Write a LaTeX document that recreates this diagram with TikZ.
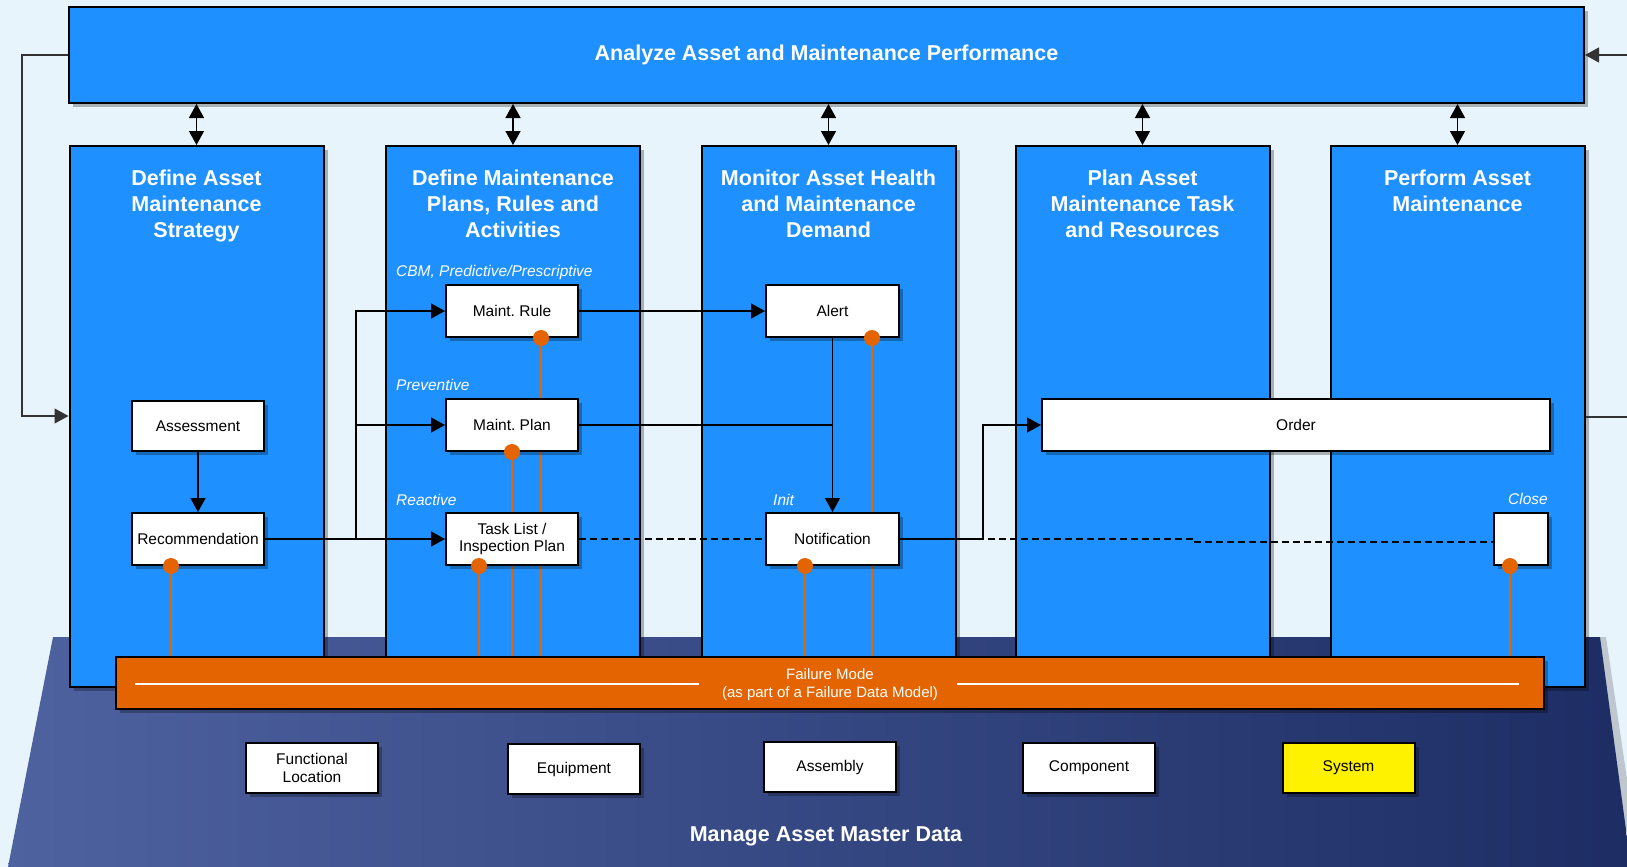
\documentclass[tikz,border=0pt]{standalone}
\usepackage{fontspec}
\setmainfont{Liberation Sans}
\usetikzlibrary{arrows.meta,shadows,calc}
\pgfdeclarelayer{back}
\pgfdeclarelayer{links}
\pgfsetlayers{back,links,main}
\definecolor{bgc}{RGB}{232,244,252}
\definecolor{colblue}{RGB}{30,144,255}
\definecolor{fmorange}{RGB}{227,100,0}
\definecolor{trapL}{RGB}{78,98,160}
\definecolor{trapR}{RGB}{29,45,100}
\newcommand\dgBoxFont{\fontsize{15.5}{17.5}\selectfont}
\newcommand\dgTitleFont{\bfseries\fontsize{21.5}{26}\selectfont}
\newcommand\dgLblFont{\itshape\fontsize{15.5}{18}\selectfont}
\newcommand\dgFmFont{\fontsize{15}{18}\selectfont}
\begin{document}
\begin{tikzpicture}[x=1pt,y=-1pt,
  shadebox/.style={drop shadow={shadow xshift=4pt,shadow yshift=-4pt,opacity=0.28,fill=black}},
  bluebox/.style={draw=black,line width=2pt,fill=colblue,shadebox,inner sep=0pt},
  whitebox/.style={draw=black,line width=2pt,fill=white,shadebox,minimum width=132pt,minimum height=52pt,inner sep=0pt,align=center,font=\dgBoxFont},
  coltitle/.style={anchor=north,align=center,text=white,font=\dgTitleFont,inner sep=0pt},
  lbl/.style={text=white,font=\dgLblFont,inner sep=0pt},
  conn/.style={draw=black,line width=1.4pt},
  thinconn/.style={draw=black!80,line width=1.2pt},
  tip/.style={-{Triangle[length=14pt,width=15pt]}},
  dbl/.style={conn,{Triangle[length=14pt,width=15pt]}-{Triangle[length=14pt,width=15pt]}},
  dashlink/.style={draw=black,line width=1.3pt,dash pattern=on 7pt off 4pt},
  oline/.style={draw=fmorange,line width=1.5pt},
]
\useasboundingbox (0,0) rectangle (1627,867);

\begin{pgfonlayer}{back}
  \fill[bgc] (0,0) rectangle (1627,867);
  % platform (master data)
  \fill[black,opacity=0.18] (59,637) -- (1606,637) -- (1640,867) -- (14,867) -- cycle;
  \shade[left color=trapL,right color=trapR] (53,637) -- (1600,637) -- (1631,867) -- (8,867) -- cycle;
  % top box and columns
  \node[bluebox,minimum width=1515pt,minimum height=96pt,text=white,font=\dgTitleFont] (top) at (826.5,55) {Analyze Asset and Maintenance Performance};
  \node[bluebox,minimum width=254pt,minimum height=541pt] (c1) at (196.5,416.5) {};
  \node[bluebox,minimum width=254pt,minimum height=541pt] (c2) at (513,416.5) {};
  \node[bluebox,minimum width=254pt,minimum height=541pt] (c3) at (828.5,416.5) {};
  \node[bluebox,minimum width=254pt,minimum height=541pt] (c4) at (1142.5,416.5) {};
  \node[bluebox,minimum width=254pt,minimum height=541pt] (c5) at (1457.5,416.5) {};
\end{pgfonlayer}

% column titles
\node[coltitle] (t1) at (c1.north |- 0,170) {Define Asset\\Maintenance\\Strategy};
\node[coltitle] (t2) at (c2.north |- 0,170) {Define Maintenance\\Plans, Rules and\\Activities};
\node[coltitle] (t3) at (c3.north |- 0,170) {Monitor Asset Health\\and Maintenance\\Demand};
\node[coltitle] (t4) at (c4.north |- 0,170) {Plan Asset\\Maintenance Task\\and Resources};
\node[coltitle] (t5) at (c5.north |- 0,170) {Perform Asset\\Maintenance};

% italic labels
\node[lbl,anchor=base west] (lcbm) at (396,276) {CBM, Predictive/Prescriptive};
\node[lbl,anchor=base west] (lprev) at (396,390) {Preventive};
\node[lbl,anchor=base west] (lreac) at (396,505) {Reactive};
\node[lbl,anchor=base west] (linit) at (773,505) {Init};
\node[lbl,anchor=base east] (lclose) at (1548,504) {Close};

% white boxes
\node[whitebox,minimum height=50pt] (assess) at (198,426) {Assessment};
\node[whitebox] (rec) at (198,539) {Recommendation};
\node[whitebox] (rule) at (512,311) {Maint.\ Rule};
\node[whitebox] (plan) at (512,425) {Maint.\ Plan};
\node[whitebox] (tl) at (512,539) {Task List /\\Inspection Plan};
\node[whitebox,minimum width=133pt] (alert) at (832.5,311) {Alert};
\node[whitebox,minimum width=133pt] (notif) at (832.5,539) {Notification};
\node[whitebox,minimum width=508pt] (order) at (1296,425) {Order};
\node[whitebox,minimum width=54pt] (close) at (1521,539) {};

% failure mode bar
\node[draw=black,line width=2pt,fill=fmorange,shadebox,minimum width=1428pt,minimum height=52pt,inner sep=0pt] (fm) at (830,683) {};
\draw[white,line width=1.5pt] ($(fm.west)+(20,1)$) -- ($(fm.west)+(584,1)$);
\draw[white,line width=1.5pt] ($(fm.west)+(842,1)$) -- ($(fm.west)+(1404,1)$);
\node[align=center,text=white,font=\dgFmFont,inner sep=0pt] (fmt) at (830,685) {Failure Mode\\(as part of a Failure Data Model)};

% master data
\node[whitebox,minimum height=50pt] (fl) at (312,768) {Functional\\Location};
\node[whitebox,minimum height=50pt] (eq) at (574,769) {Equipment};
\node[whitebox,minimum height=50pt] (asm) at (830,767) {Assembly};
\node[whitebox,minimum height=50pt] (comp) at (1089,768) {Component};
\node[whitebox,minimum height=50pt,fill=yellow] (sys) at (1348.5,767.5) {System};
\node[text=white,font=\dgTitleFont,inner sep=0pt] (mam) at (826,836) {Manage Asset Master Data};

% dot positions
\coordinate (dRec) at ($(rec.south west)+(40,0)$);
\coordinate (dTl) at ($(tl.south west)+(34,0)$);
\coordinate (dPlan) at (plan.south);
\coordinate (dRule) at ($(rule.south west)+(96,0)$);
\coordinate (dNotif) at ($(notif.south west)+(40,0)$);
\coordinate (dAlert) at ($(alert.south west)+(107,0)$);
\coordinate (dClose) at ($(close.south west)+(17,0)$);

% free ends and bends
\coordinate (fbL) at (22,416);
\coordinate (rTop) at (1627,55);
\coordinate (rMid) at (1627,417);
\coordinate (br) at (356,539);
\coordinate (nk) at (983,539);
\coordinate (dk) at (1195,539);
\coordinate (dk2) at (1195,542);

\begin{pgfonlayer}{links}
  \draw[thinconn,tip] (top.west) -| (fbL) -- (fbL -| c1.west);
  \draw[thinconn,tip] (rTop) -- (top.east);
  \draw[thinconn] (rMid) -- (rMid -| c5.east);
  \foreach \c in {c1,c2,c3,c4,c5}
    \draw[dbl] (top.south -| \c.north) -- (\c.north);
  \draw[conn,tip] (assess.south) -- (rec.north);
  \draw[conn,tip] (rec.east) -- (tl.west);
  \draw[conn,tip] (br) |- (rule.west);
  \draw[conn,tip] (br |- plan.west) -- (plan.west);
  \draw[conn,tip] (rule.east) -- (alert.west);
  \draw[conn,tip] (alert.south) -- (notif.north);
  \draw[conn] (plan.east) -- (plan.east -| alert.south);
  \draw[dashlink] (tl.east) -- (notif.west);
  \draw[dashlink] (notif.east) -- (dk) -- (dk2) -- (close.west |- dk2);
  \draw[conn,tip] (notif.east) -- (nk) |- (order.west);
  \foreach \d in {dRec,dTl,dPlan,dRule,dNotif,dAlert,dClose}
    \draw[oline] (\d) -- (\d |- fm.north);
\end{pgfonlayer}

\foreach \d in {dRec,dTl,dPlan,dRule,dNotif,dAlert,dClose}
  \fill[fmorange] (\d) circle (8pt);
\end{tikzpicture}
\end{document}
